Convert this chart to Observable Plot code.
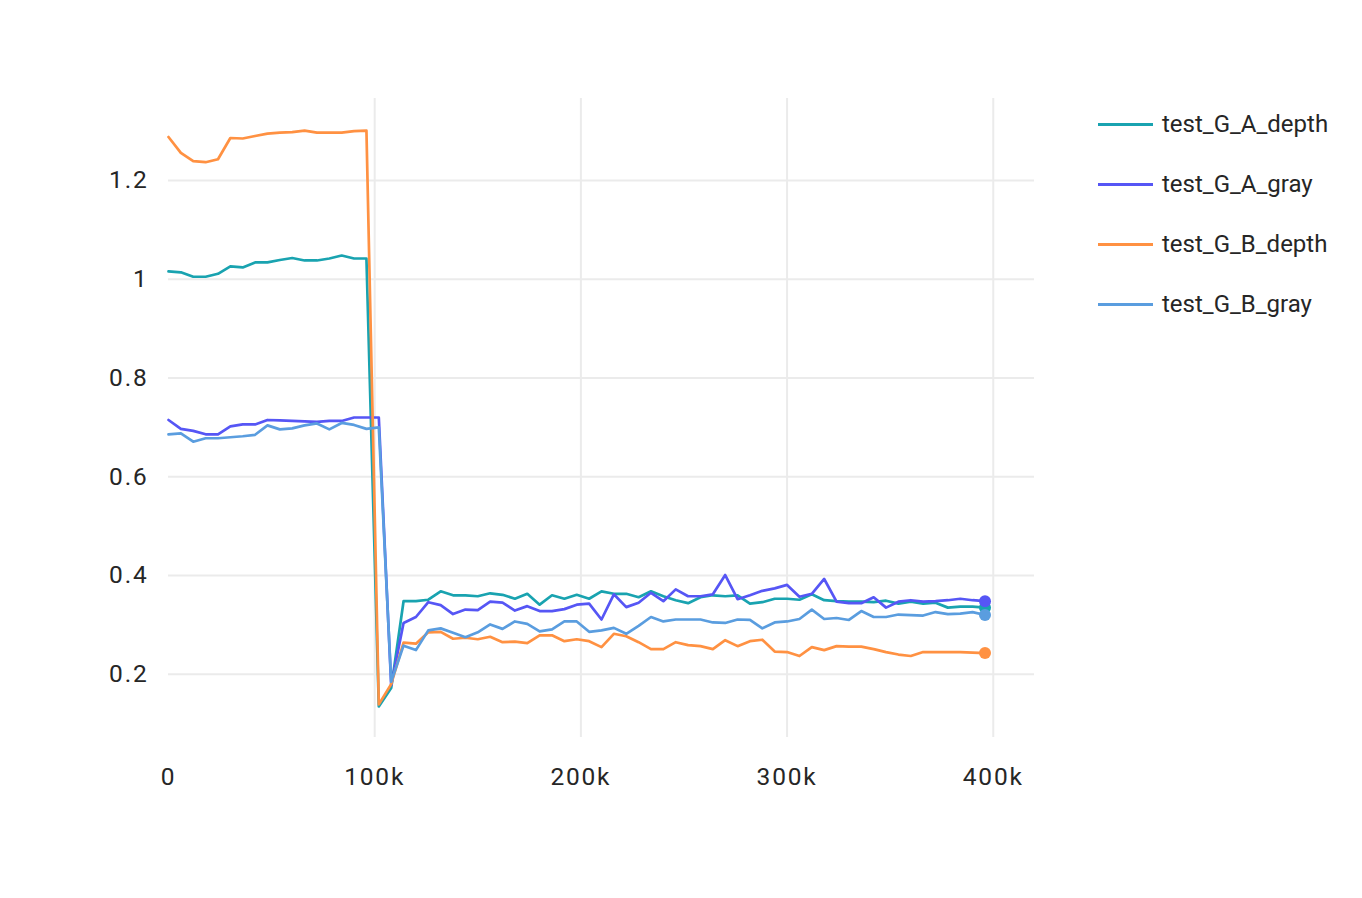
<!DOCTYPE html>
<html><head><meta charset="utf-8">
<script src="https://cdn.jsdelivr.net/npm/d3@7"></script>
<script src="https://cdn.jsdelivr.net/npm/@observablehq/plot@0.6"></script>
<style>
html,body{margin:0;padding:0;background:#fff;}
#wrap{position:relative;width:1362px;height:898px;font-family:Roboto,sans-serif;color:#262626;}
#legend{position:absolute;left:1098px;top:0;width:264px;height:340px;}
.item{position:absolute;left:0;height:30px;display:flex;align-items:center;white-space:nowrap;font-size:24px;}
.sw{display:inline-block;width:55px;height:3px;margin-right:9px;}
#wrap svg g[aria-label="x-axis tick label"] text,
#wrap svg g[aria-label="y-axis tick label"] text{letter-spacing:1.8px;}
</style></head><body><div id="wrap"><div id="legend"></div></div>
<script>
// training steps (thousands)
const stepsK = [0,6,12,18,24,30,36,42,48,54,60,66,72,78,84,90,96,102,108,114,120,126,132,138,144,150,156,162,168,174,180,186,192,198,204,210,216,222,228,234,240,246,252,258,264,270,276,282,288,294,300,306,312,318,324,330,336,342,348,354,360,366,372,378,384,390,396];

const seriesNames = ["test_G_A_depth","test_G_A_gray","test_G_B_depth","test_G_B_gray"];
const seriesColors = ["#19a3b0","#5656f5","#ff9142","#5a9ddf"];

const testGADepth = [1.016,1.014,1.005,1.005,1.011,1.026,1.024,1.034,1.034,1.039,1.043,1.038,1.038,1.042,1.048,1.042,1.042,0.135,0.172,0.348,0.348,0.351,0.368,0.360,0.360,0.358,0.364,0.361,0.353,0.363,0.341,0.360,0.353,0.361,0.353,0.368,0.363,0.363,0.356,0.368,0.358,0.350,0.344,0.356,0.360,0.358,0.360,0.343,0.346,0.353,0.353,0.351,0.362,0.350,0.348,0.347,0.347,0.346,0.349,0.343,0.347,0.343,0.345,0.335,0.337,0.337,0.335];
const testGAGray = [0.715,0.697,0.693,0.686,0.686,0.702,0.706,0.706,0.715,0.714,0.713,0.712,0.711,0.713,0.713,0.720,0.720,0.720,0.178,0.304,0.316,0.346,0.340,0.322,0.331,0.330,0.347,0.345,0.329,0.338,0.328,0.328,0.332,0.341,0.343,0.311,0.362,0.336,0.345,0.365,0.348,0.372,0.358,0.358,0.362,0.401,0.352,0.360,0.369,0.374,0.381,0.357,0.363,0.393,0.347,0.344,0.344,0.356,0.335,0.347,0.350,0.347,0.348,0.350,0.353,0.350,0.348];
const testGBDepth = [1.288,1.256,1.239,1.237,1.243,1.286,1.285,1.290,1.295,1.297,1.298,1.301,1.297,1.297,1.297,1.300,1.301,0.139,0.180,0.264,0.262,0.285,0.286,0.272,0.274,0.271,0.276,0.265,0.266,0.263,0.279,0.279,0.267,0.271,0.267,0.255,0.282,0.277,0.265,0.251,0.251,0.265,0.259,0.257,0.251,0.269,0.257,0.267,0.270,0.246,0.245,0.237,0.255,0.249,0.257,0.256,0.256,0.251,0.245,0.240,0.237,0.245,0.245,0.245,0.245,0.244,0.243];
const testGBGray = [0.686,0.688,0.671,0.678,0.678,0.680,0.682,0.685,0.704,0.696,0.698,0.704,0.708,0.696,0.709,0.705,0.697,0.700,0.185,0.258,0.249,0.289,0.293,0.284,0.275,0.285,0.301,0.292,0.307,0.302,0.287,0.291,0.307,0.307,0.286,0.289,0.294,0.282,0.298,0.316,0.307,0.311,0.311,0.311,0.305,0.304,0.311,0.310,0.293,0.305,0.307,0.312,0.331,0.312,0.314,0.310,0.328,0.316,0.316,0.321,0.320,0.319,0.326,0.322,0.323,0.326,0.320];

const xTicks = [0,100000,200000,300000,400000];
const xTickLabels = ["0","100k","200k","300k","400k"];
const yTicks = [0.2,0.4,0.6,0.8,1.0,1.2];
const yTickLabels = ["0.2","0.4","0.6","0.8","1","1.2"];

const allSeries = [testGADepth, testGAGray, testGBDepth, testGBGray];
const table = [];
allSeries.forEach((vals, s) => {
  vals.forEach((v, i) => table.push({series: seriesNames[s], step: stepsK[i] * 1000, value: v}));
});
const lastPoints = allSeries.map((vals, s) => ({series: seriesNames[s], step: stepsK[vals.length - 1] * 1000, value: vals[vals.length - 1]}));

const chart = Plot.plot({
  width: 1362,
  height: 898,
  marginLeft: 168,
  marginRight: 328,
  marginTop: 98,
  marginBottom: 161,
  style: {fontFamily: "Roboto, sans-serif", fontSize: "24.5px", color: "#262626", background: "#fff"},
  x: {domain: [0, 420000]},
  y: {domain: [0.072, 1.366]},
  color: {domain: seriesNames, range: seriesColors},
  marks: [
    Plot.gridX(xTicks.filter(d => d > 0), {stroke: "#ebebeb", strokeOpacity: 1, strokeWidth: 2}),
    Plot.gridY(yTicks, {stroke: "#ebebeb", strokeOpacity: 1, strokeWidth: 2}),
    Plot.axisX(xTicks, {tickSize: 0, tickPadding: 30, tickFormat: d => xTickLabels[xTicks.indexOf(d)], label: null}),
    Plot.axisY(yTicks, {tickSize: 0, tickPadding: 20, tickFormat: d => yTickLabels[yTicks.indexOf(d)], label: null}),
    Plot.line(table, {x: "step", y: "value", z: "series", stroke: "series", strokeWidth: 2.7, curve: "linear"}),
    Plot.dot(lastPoints, {x: "step", y: "value", fill: "series", r: 6})
  ]
});
document.getElementById("wrap").appendChild(chart);

const legend = document.getElementById("legend");
const legendTops = [109, 169, 229, 289];
seriesNames.forEach((name, i) => {
  const it = document.createElement("div");
  it.className = "item";
  it.style.top = legendTops[i] + "px";
  const sw = document.createElement("span");
  sw.className = "sw";
  sw.style.background = seriesColors[i];
  it.appendChild(sw);
  it.appendChild(document.createTextNode(name));
  legend.appendChild(it);
});
</script>
</body></html>
